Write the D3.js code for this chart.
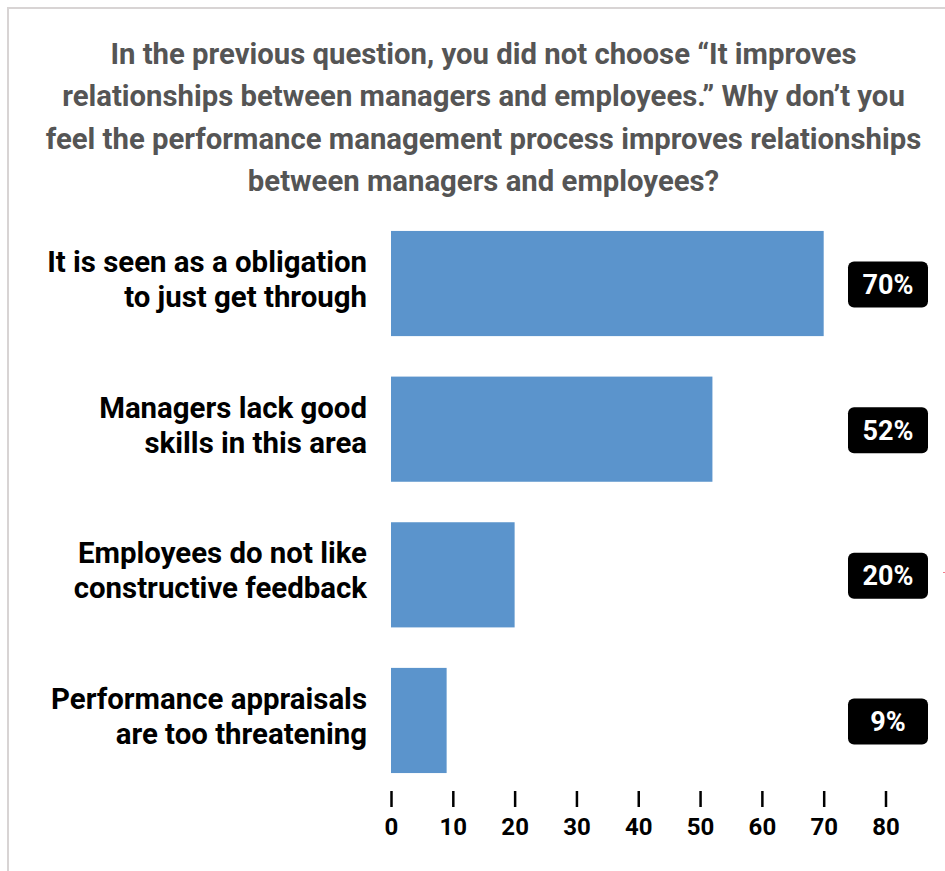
<!DOCTYPE html>
<html>
<head>
<meta charset="utf-8">
<script src="https://cdn.jsdelivr.net/npm/d3@7"></script>
<style>
  html, body { margin: 0; padding: 0; background: #ffffff; }
  svg { display: block; font-family: Roboto, "Noto Sans", sans-serif; }
</style>
</head>
<body>
<svg id="chart" width="945" height="871"></svg>
<script>
// Survey question, answer categories and shares (percent of respondents)
const titleLines = [
  "In the previous question, you did not choose \u201cIt improves",
  "relationships between managers and employees.\u201d Why don\u2019t you",
  "feel the performance management process improves relationships",
  "between managers and employees?"
];
const categories = [
  ["It is seen as a obligation", "to just get through"],
  ["Managers lack good", "skills in this area"],
  ["Employees do not like", "constructive feedback"],
  ["Performance appraisals", "are too threatening"]
];
const values = [70, 52, 20, 9];
const valueLabels = ["70%", "52%", "20%", "9%"];
const tickValues = [0, 10, 20, 30, 40, 50, 60, 70, 80];

const svg = d3.select("#chart");

// Frame along the top and left edges
svg.append("path")
  .attr("d", "M8,871V8H945")
  .attr("fill", "none")
  .attr("stroke", "#d8d4d4")
  .attr("stroke-width", 2);

// Title
svg.append("g")
  .selectAll("text")
  .data(titleLines)
  .join("text")
  .attr("x", 483.5)
  .attr("y", (d, i) => 64 + i * 42.3)
  .attr("text-anchor", "middle")
  .attr("font-size", 29.3)
  .attr("font-weight", 700)
  .attr("fill", "#555555")
  .text(d => d);

// Scales
const x = d3.scaleLinear().domain([0, 80]).range([391, 885.5]);
const y = d3.scaleBand()
  .domain(d3.range(categories.length))
  .range([210.7, 793.3])
  .paddingInner(0.278)
  .paddingOuter(0.139);

// Bars
svg.append("g")
  .selectAll("rect")
  .data(values)
  .join("rect")
  .attr("x", x(0))
  .attr("y", (d, i) => y(i))
  .attr("width", d => x(d) - x(0))
  .attr("height", y.bandwidth())
  .attr("fill", "#5b94cc");

// Category labels, two lines each, right-aligned beside the bars
const labelG = svg.append("g")
  .selectAll("text")
  .data(categories)
  .join("text")
  .attr("text-anchor", "end")
  .attr("font-size", 29.4)
  .attr("font-weight", 700)
  .attr("fill", "#000000");
labelG.selectAll("tspan")
  .data((d, i) => d.map((line, j) => ({ line, j, i })))
  .join("tspan")
  .attr("x", 367)
  .attr("y", d => y(d.i) + y.bandwidth() / 2 - 11.5 + d.j * 35)
  .text(d => d.line);

// Value badges
const badges = svg.append("g")
  .selectAll("g")
  .data(values)
  .join("g")
  .attr("transform", (d, i) => `translate(888,${y(i) + y.bandwidth() / 2 + 1})`);
badges.append("rect")
  .attr("x", -40)
  .attr("y", -23)
  .attr("width", 80)
  .attr("height", 46)
  .attr("rx", 6)
  .attr("fill", "#000000");
badges.append("text")
  .attr("text-anchor", "middle")
  .attr("y", 9.5)
  .attr("font-size", 27)
  .attr("font-weight", 700)
  .attr("fill", "#ffffff")
  .text((d, i) => valueLabels[i]);

// Bottom axis: tick marks and labels, no domain line
const axis = d3.axisBottom(x)
  .tickValues(tickValues)
  .tickSize(16)
  .tickFormat(d3.format("d"));
const axisG = svg.append("g")
  .attr("transform", "translate(0,791)")
  .call(axis);
axisG.select(".domain").remove();
axisG.selectAll(".tick line")
  .attr("stroke", "#000000")
  .attr("stroke-width", 2.5);
axisG.selectAll(".tick text")
  .attr("y", 44)
  .attr("dy", 0)
  .attr("font-family", "Roboto, 'Noto Sans', sans-serif")
  .attr("font-size", 24)
  .attr("font-weight", 700)
  .attr("fill", "#000000");

// Small red speck at the right edge
svg.append("rect")
  .attr("x", 943)
  .attr("y", 572)
  .attr("width", 2)
  .attr("height", 1)
  .attr("fill", "#f07c8a");
</script>
</body>
</html>
